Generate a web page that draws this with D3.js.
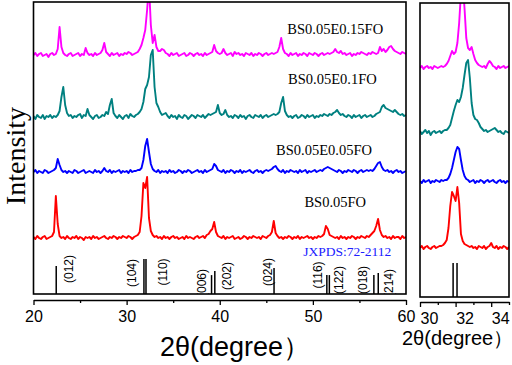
<!DOCTYPE html>
<html lang="en">
<head>
<meta charset="UTF-8">
<title>XRD patterns</title>
<style>
  body { margin: 0; background: #fff; }
</style>
</head>
<body>
<svg id="svg" width="512" height="365"></svg>
<script src="https://d3js.org/d3.v7.min.js"></script>
<script>
// scans: start angle + step, counts (a.u., baseline ~0)
const mainStart = 20, mainStep = 0.2
const zoomStart = 30, zoomStep = 0.1

const samples = ['BS0.05FO', 'BS0.05E0.05FO', 'BS0.05E0.1FO', 'BS0.05E0.15FO']
const colors = ['#ff0000', '#0000ff', '#008080', '#ff00ff']
const mainOffsets = [56, 122, 177, 239]
const zoomOffsets = [49, 115, 164, 229]

const mainRed = [
  1, -1, 2, 0, -1, 1, 2, -1, 0, 1,
  2, 6, 42, 14, 2, 0, 1, -1, 2, 0,
  -1, 1, 0, 2, -1, 1, 0, -2, 1, 0,
  1, -1, 2, 0, 1, -1, 0, 1, 2, 0,
  -1, 1, 0, 2, 1, -1, 1, 0, 2, 1,
  0, 2, 1, -1, 1, 2, 3, 6, 22, 55,
  50, 61, 20, 7, 3, 1, 2, 0, 1, -1,
  2, 0, 1, -1, 1, 2, 0, 1, -1, 0,
  1, -1, 2, 0, 1, 0, -1, 1, 2, 0,
  1, 2, 0, 3, 4, 7, 9, 16, 6, 2,
  1, 0, 2, -1, 1, 0, 1, 2, -1, 0,
  1, -1, 0, 2, 1, -1, 1, 0, 2, 1,
  0, 1, -1, 2, 1, 0, 2, 3, 6, 17,
  5, 2, 0, 1, -1, 1, 0, 2, 1, -1,
  1, 0, 2, -1, 1, 0, 1, 2, 0, 1,
  -1, 1, 0, 2, 1, 2, 4, 12, 9, 3,
  2, 1, 0, 1, -1, 2, 0, 1, -1, 1,
  0, 2, 1, -1, 1, 0, 2, 1, 0, 2,
  1, 3, 5, 7, 12, 19, 8, 3, 1, 2,
  0, 1, -1, 2, 0, 1, 1, -1, 2, 0,
  1
]
const mainBlue = [
  0, 2, -1, 1, 0, -1, 2, 1, -1, 0,
  1, 2, 4, 13, 7, 2, 0, 1, -1, 1,
  0, -1, 2, 1, -1, 0, 1, 2, -1, 0,
  1, 0, -1, 2, 0, 1, -1, 1, 4, 1,
  0, 2, -1, 1, 0, 1, 2, -1, 1, 0,
  1, -1, 2, 0, 1, 1, 2, 2, 4, 12,
  26, 33, 20, 8, 3, 1, 0, 2, -1, 1,
  0, 1, -1, 2, 0, 1, -1, 0, 2, 1,
  -1, 1, 0, 2, 1, -1, 0, 1, 2, 0,
  1, -1, 2, 0, 1, 2, 3, 8, 6, 2,
  1, 0, 2, -1, 1, 0, 2, 1, -1, 1,
  0, 2, -1, 1, 0, 1, 2, 0, -1, 1,
  2, 0, 1, -1, 1, 2, 1, 2, 3, 5,
  6, 3, 1, 0, 2, -1, 1, 0, 2, 1,
  0, 1, -1, 2, 0, 1, 2, -1, 1, 0,
  1, 2, 0, 1, 2, 1, 3, 4, 5, 4,
  3, 2, 1, 0, 2, 1, -1, 1, 0, 2,
  1, 0, 2, 1, -1, 1, 2, 0, 1, 2,
  1, 2, 1, 3, 6, 9, 10, 5, 2, 1,
  2, 0, 1, -1, 1, 2, 0, 1, -1, 0,
  1
]
const mainTeal = [
  1, -2, 2, 0, -1, 2, -2, 1, 0, 2,
  -1, 1, 0, 2, 6, 20, 30, 12, 4, 1,
  2, -1, 1, 0, 2, 3, -1, 2, 1, 8,
  2, 0, -2, 1, 2, -1, 0, 2, 1, 5,
  3, 12, 18, 4, 1, -1, 2, 0, -2, 1,
  2, -1, 3, 1, 0, 2, 3, 5, 8, 15,
  28, 32, 40, 62, 67, 30, 14, 10, 5, 2,
  3, 4, 1, -1, 2, 0, 1, -2, 2, 0,
  -1, 2, 1, -2, 0, 2, 1, -1, 2, 1,
  0, 2, -1, 1, 3, 2, 3, 4, 5, 12,
  4, 2, 3, 7, 2, 0, 1, -1, 2, 1,
  -1, 2, 0, 1, -2, 1, 2, 0, -1, 2,
  1, 0, 2, -1, 1, 2, 0, 1, 2, 3,
  2, 3, 5, 14, 20, 6, 2, 0, 1, -1,
  1, 2, -1, 0, 2, 1, -1, 2, 0, 1,
  2, -1, 1, 0, 2, 1, 3, 2, 1, 3,
  2, 4, 5, 7, 4, 2, 3, 1, 0, 2,
  1, -1, 2, 0, 1, 2, -1, 1, 2, 0,
  1, 2, 0, 1, 3, 4, 5, 10, 12, 9,
  8, 7, 6, 5, 7, 5, 3, 2, 3, 1,
  2
]
const mainMagenta = [
  0, 2, -1, 1, 2, -1, 0, 1, -2, 1,
  2, 0, 1, 6, 28, 8, 2, 0, -1, 1,
  2, -1, 0, 1, 2, -1, 1, 0, 7, 2,
  0, 1, -1, 2, 0, 1, 2, 5, 12, 3,
  1, -1, 2, 0, 1, 2, -1, 1, 0, 2,
  1, 3, 2, 0, 1, 2, 3, 6, 10, 17,
  25, 45, 70, 30, 12, 20, 8, 4, 4, 6,
  5, 2, 1, -1, 2, 0, 1, 2, -1, 0,
  1, 2, -1, 0, 2, 1, -1, 1, 2, 0,
  1, -1, 2, 0, 1, 2, 3, 10, 4, 2,
  1, 2, 6, 2, 0, 1, 2, -1, 3, 1,
  2, 0, 1, -1, 2, 1, 0, 2, -1, 1,
  0, 2, 1, -1, 1, 2, 0, 1, 2, 1,
  2, 3, 8, 17, 6, 2, 1, -1, 2, 0,
  1, 2, -1, 1, 0, 2, 1, -1, 2, 1,
  0, 2, 1, -1, 1, 2, 0, 1, 2, 1,
  2, 3, 6, 3, 2, 4, 1, 2, 0, 1,
  2, -1, 1, 0, 2, 1, 3, 2, 1, 0,
  2, 1, 3, 2, 1, 2, 8, 4, 6, 3,
  5, 8, 9, 6, 4, 3, 2, 1, 3, 2,
  1
]

// 30-35 degree detail
const zoomRed = [
  0, 2, -1, 1, 2, 0, -1, 1, 2, 0,
  1, 2, 2, 3, 5, 8, 20, 42, 56, 52,
  47, 61, 45, 14, 7, 4, 3, 2, 1, 2,
  0, 1, -1, 2, 1, 0, 2, -1, 1, 2,
  5, 1, 0, 2, -1, 1, 0, 2, 1, -1,
  1
]
const zoomBlue = [
  1, -1, 2, 0, 1, 2, -1, 1, 0, 2,
  1, 0, 2, 1, 2, 2, 4, 8, 14, 22,
  30, 35, 33, 22, 12, 6, 3, 2, 0, 1,
  2, -1, 1, 0, 2, 1, -1, 1, 2, 0,
  1, 2, 0, -1, 1, 2, 0, 1, -1, 1,
  0
]
const zoomTeal = [
  2, -1, 1, 3, 0, 2, -2, 1, 2, 0,
  1, 2, 0, 2, 3, 3, 5, 8, 15, 22,
  28, 33, 31, 36, 45, 58, 70, 73, 55, 30,
  18, 14, 13, 10, 6, 4, 2, 3, 1, 2,
  3, 4, 5, 3, 1, 2, 0, -1, 2, 1,
  0
]
const zoomMagenta = [
  0, 2, -1, 1, 2, 0, 1, -1, 2, 1,
  0, 1, 2, 1, 2, 4, 7, 12, 17, 14,
  16, 25, 45, 75, 85, 60, 30, 20, 18, 21,
  14, 8, 5, 3, 2, 1, 2, 0, 4, 7,
  5, 2, 1, -1, 2, 0, 1, 2, 0, 1,
  2
]

// JCPDS 72-2112 reference lines
const hkl = ['(012)', '(104)', '(110)', '(006)', '(202)', '(024)', '(116)', '(122)', '(018)', '(214)']
const refPos = [22.44, 31.86, 32.08, 39.12, 39.47, 45.83, 51.5, 51.77, 56.55, 57.02]
const refInt = [80, 100, 100, 54, 66, 74, 54, 54, 54, 60]
const hklShift = [[13, -25], [-12, -21], [17, -22], [-10, -11], [12, -18], [-6, -22], [-9, -19], [10, -14], [-11, -14], [11, -11]]

const mainTicks = [20, 30, 40, 50, 60]
const mainMinor = [25, 35, 45, 55]
const zoomTicks = [30, 32, 34]
const zoomMinor = [31, 33, 35]

const mainSeries = [mainRed, mainBlue, mainTeal, mainMagenta]
const zoomSeries = [zoomRed, zoomBlue, zoomTeal, zoomMagenta]
// label anchor: [2theta, level]
const labelPos = [[52.4, 87], [51.2, 139], [52.1, 210], [52.4, 260]]

const SANS = '"Liberation Sans", Arial, sans-serif'
const SERIF = '"Liberation Serif", "Times New Roman", serif'

const svg = d3.select('#svg')

const xMain = d3.scaleLinear().domain([20, 60]).range([33.5, 406])
const yMain = d3.scaleLinear().domain([0, 292]).range([294, 2])
const xZoom = d3.scaleLinear().domain([30, 35]).range([420, 509])
const yZoom = d3.scaleLinear().domain([0, 294]).range([297, 3])
const stickH = d3.scaleLinear().domain([0, 100]).range([0, 35])

const defs = svg.append('defs')
defs.append('clipPath').attr('id', 'clipMain')
  .append('rect').attr('x', 33.5).attr('y', 2).attr('width', 372.5).attr('height', 292)
defs.append('clipPath').attr('id', 'clipZoom')
  .append('rect').attr('x', 420).attr('y', 3).attr('width', 89).attr('height', 294)

function drawScans(series, offsets, start, step, x, y, clip) {
  const g = svg.append('g').attr('clip-path', `url(#${clip})`)
  series.forEach((vals, k) => {
    const line = d3.line()
      .x((d, i) => x(start + i * step))
      .y(d => y(d + offsets[k]))
    g.append('path')
      .attr('d', line(vals))
      .attr('fill', 'none')
      .attr('stroke', colors[k])
      .attr('stroke-width', 1.9)
      .attr('stroke-linejoin', 'round')
  })
}

drawScans(mainSeries, mainOffsets, mainStart, mainStep, xMain, yMain, 'clipMain')
drawScans(zoomSeries, zoomOffsets, zoomStart, zoomStep, xZoom, yZoom, 'clipZoom')

// reference sticks
svg.append('g').selectAll('line')
  .data(refPos)
  .join('line')
  .attr('x1', d => xMain(d)).attr('x2', d => xMain(d))
  .attr('y1', yMain(0)).attr('y2', (d, i) => yMain(0) - stickH(refInt[i]))
  .attr('stroke', '#000').attr('stroke-width', 1.5)

svg.append('g').attr('clip-path', 'url(#clipMain)').selectAll('text')
  .data(hkl)
  .join('text')
  .attr('transform', (d, i) => `translate(${xMain(refPos[i]) + hklShift[i][0]},${yMain(0) + hklShift[i][1]}) rotate(-90)`)
  .attr('text-anchor', 'middle')
  .attr('dominant-baseline', 'central')
  .style('font-family', SANS)
  .style('font-size', '12px')
  .text(d => d)

svg.append('g').selectAll('line')
  .data(refPos.slice(1, 3))
  .join('line')
  .attr('x1', d => xZoom(d)).attr('x2', d => xZoom(d))
  .attr('y1', yZoom(0)).attr('y2', yZoom(0) - 34)
  .attr('stroke', '#000').attr('stroke-width', 1.5)

// frames
svg.append('rect').attr('x', 33.5).attr('y', 2).attr('width', 372.5).attr('height', 292)
  .attr('fill', 'none').attr('stroke', '#000').attr('stroke-width', 1.6)
svg.append('rect').attr('x', 420).attr('y', 3).attr('width', 89).attr('height', 294)
  .attr('fill', 'none').attr('stroke', '#000').attr('stroke-width', 1.6)

// axes
function bottomAxis(x, yPos, major, minor, dx) {
  const g = svg.append('g').attr('transform', `translate(0,${yPos})`)
    .call(d3.axisBottom(x).tickValues(major).tickSize(5).tickSizeOuter(0).tickPadding(6).tickFormat(d3.format('d')))
  g.select('.domain').attr('stroke-width', 1.6)
  g.selectAll('.tick line').attr('stroke-width', 1.3)
  g.selectAll('.tick text').style('font-size', '16px').style('font-family', SANS).attr('fill', '#000').attr('dx', dx)
  const m = svg.append('g').attr('transform', `translate(0,${yPos})`)
    .call(d3.axisBottom(x).tickValues(minor).tickSize(3).tickFormat(''))
  m.select('.domain').remove()
  m.selectAll('.tick line').attr('stroke-width', 1.3)
}
bottomAxis(xMain, 300, mainTicks, mainMinor, 0)
bottomAxis(xZoom, 302, zoomTicks, zoomMinor, 9)

// sample labels
svg.append('g').selectAll('text')
  .data(samples)
  .join('text')
  .attr('x', (d, i) => xMain(labelPos[i][0]))
  .attr('y', (d, i) => yMain(labelPos[i][1]))
  .attr('text-anchor', 'middle')
  .style('font-family', SERIF)
  .style('font-size', '14.5px')
  .text(d => d)

svg.append('text')
  .attr('x', xMain(53.7)).attr('y', yMain(38))
  .attr('text-anchor', 'middle')
  .style('font-family', SERIF)
  .style('font-size', '13.5px')
  .attr('fill', '#2020ff')
  .text('JXPDS:72-2112')

// titles
svg.append('text')
  .attr('transform', 'translate(25,156) rotate(-90)')
  .attr('text-anchor', 'middle')
  .style('font-family', SERIF)
  .style('font-size', '28px')
  .text('Intensity')

svg.append('text')
  .attr('x', 160).attr('y', 356)
  .style('font-family', SANS)
  .style('font-size', '27px')
  .text('2θ(degree）')

svg.append('text')
  .attr('x', 402).attr('y', 345)
  .style('font-family', SANS)
  .style('font-size', '20px')
  .text('2θ(degree）')
</script>
</body>
</html>
